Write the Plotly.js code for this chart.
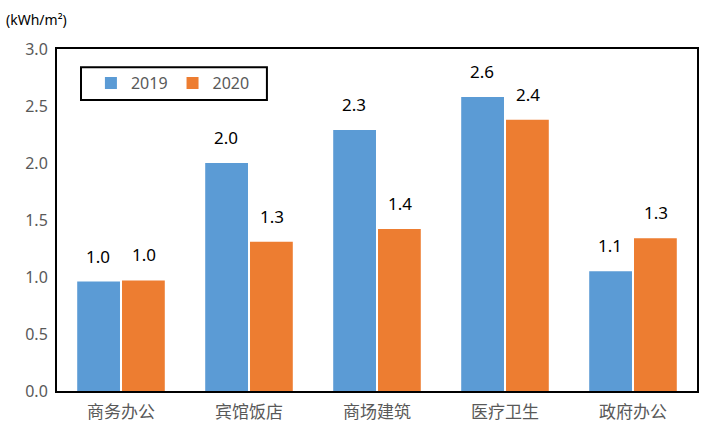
<!DOCTYPE html>
<html>
<head>
<meta charset="utf-8">
<script src="https://cdn.plot.ly/plotly-3.0.1.min.js"></script>
<style>html,body{margin:0;padding:0;background:#fff;}#chart{width:720px;height:432px;}</style>
</head>
<body>
<div id="chart"></div>
<script>
const categories = ["商务办公", "宾馆饭店", "商场建筑", "医疗卫生", "政府办公"];
const values2019 = [0.96, 2.00, 2.29, 2.58, 1.05];
const values2020 = [0.97, 1.31, 1.42, 2.38, 1.34];
const seriesNames = ["2019", "2020"];
const colors = ["#5B9BD5", "#ED7D31"];
const unitLabel = "(kWh/m²)";

const numFont = "Noto Sans, Open Sans, sans-serif";
const cjkFont = "Noto Sans CJK SC, sans-serif";

const traces = [values2019, values2020].map((vals, i) => ({
  type: "bar",
  name: seriesNames[i],
  x: categories,
  y: vals,
  marker: {color: colors[i]},
  hoverinfo: "none"
}));

const annotations = [];
[values2019, values2020].forEach((vals, i) => {
  vals.forEach((v, j) => {
    annotations.push({
      x: categories[j], y: v, xref: "x", yref: "y",
      text: v.toFixed(1), showarrow: false,
      xanchor: "center", yanchor: "bottom",
      xshift: i === 0 ? -23 : 23, yshift: 12,
      font: {family: numFont, size: 17, color: "#000"}
    });
  });
});
annotations.push({
  x: 0, y: 1, xref: "paper", yref: "paper",
  xshift: -53, yshift: 18,
  text: unitLabel, showarrow: false,
  xanchor: "left", yanchor: "bottom",
  font: {family: numFont, size: 14, color: "#000"}
});

const layout = {
  width: 720, height: 432,
  margin: {l: 57, r: 23, t: 49, b: 41},
  paper_bgcolor: "#fff", plot_bgcolor: "#fff",
  barmode: "group", bargap: 0.3, bargroupgap: 0.045,
  showlegend: true,
  legend: {
    orientation: "h",
    x: 0.053, y: 0.95, xanchor: "left", yanchor: "top",
    borderwidth: 0, bgcolor: "rgba(0,0,0,0)",
    font: {family: numFont, size: 16, color: "#595959"},
    itemwidth: 30
  },
  shapes: [{
    type: "rect", xref: "paper", yref: "paper",
    x0: 0.0375, x1: 0.328, y0: 0.851, y1: 0.947,
    line: {color: "#000", width: 2}, fillcolor: "rgba(0,0,0,0)"
  }],
  xaxis: {
    type: "category",
    showline: true, linecolor: "#000", linewidth: 2, mirror: true,
    ticks: "", showgrid: false, ticklabelstandoff: 5,
    tickfont: {family: cjkFont, size: 17, color: "#595959"}
  },
  yaxis: {
    range: [0, 3], dtick: 0.5, tickformat: ".1f",
    showline: true, linecolor: "#000", linewidth: 2, mirror: true,
    ticks: "", showgrid: false, zeroline: false, ticklabelstandoff: 4,
    tickfont: {family: numFont, size: 16, color: "#595959"}
  },
  annotations: annotations
};

Plotly.newPlot("chart", traces, layout, {displayModeBar: false, staticPlot: true});
</script>
</body>
</html>
